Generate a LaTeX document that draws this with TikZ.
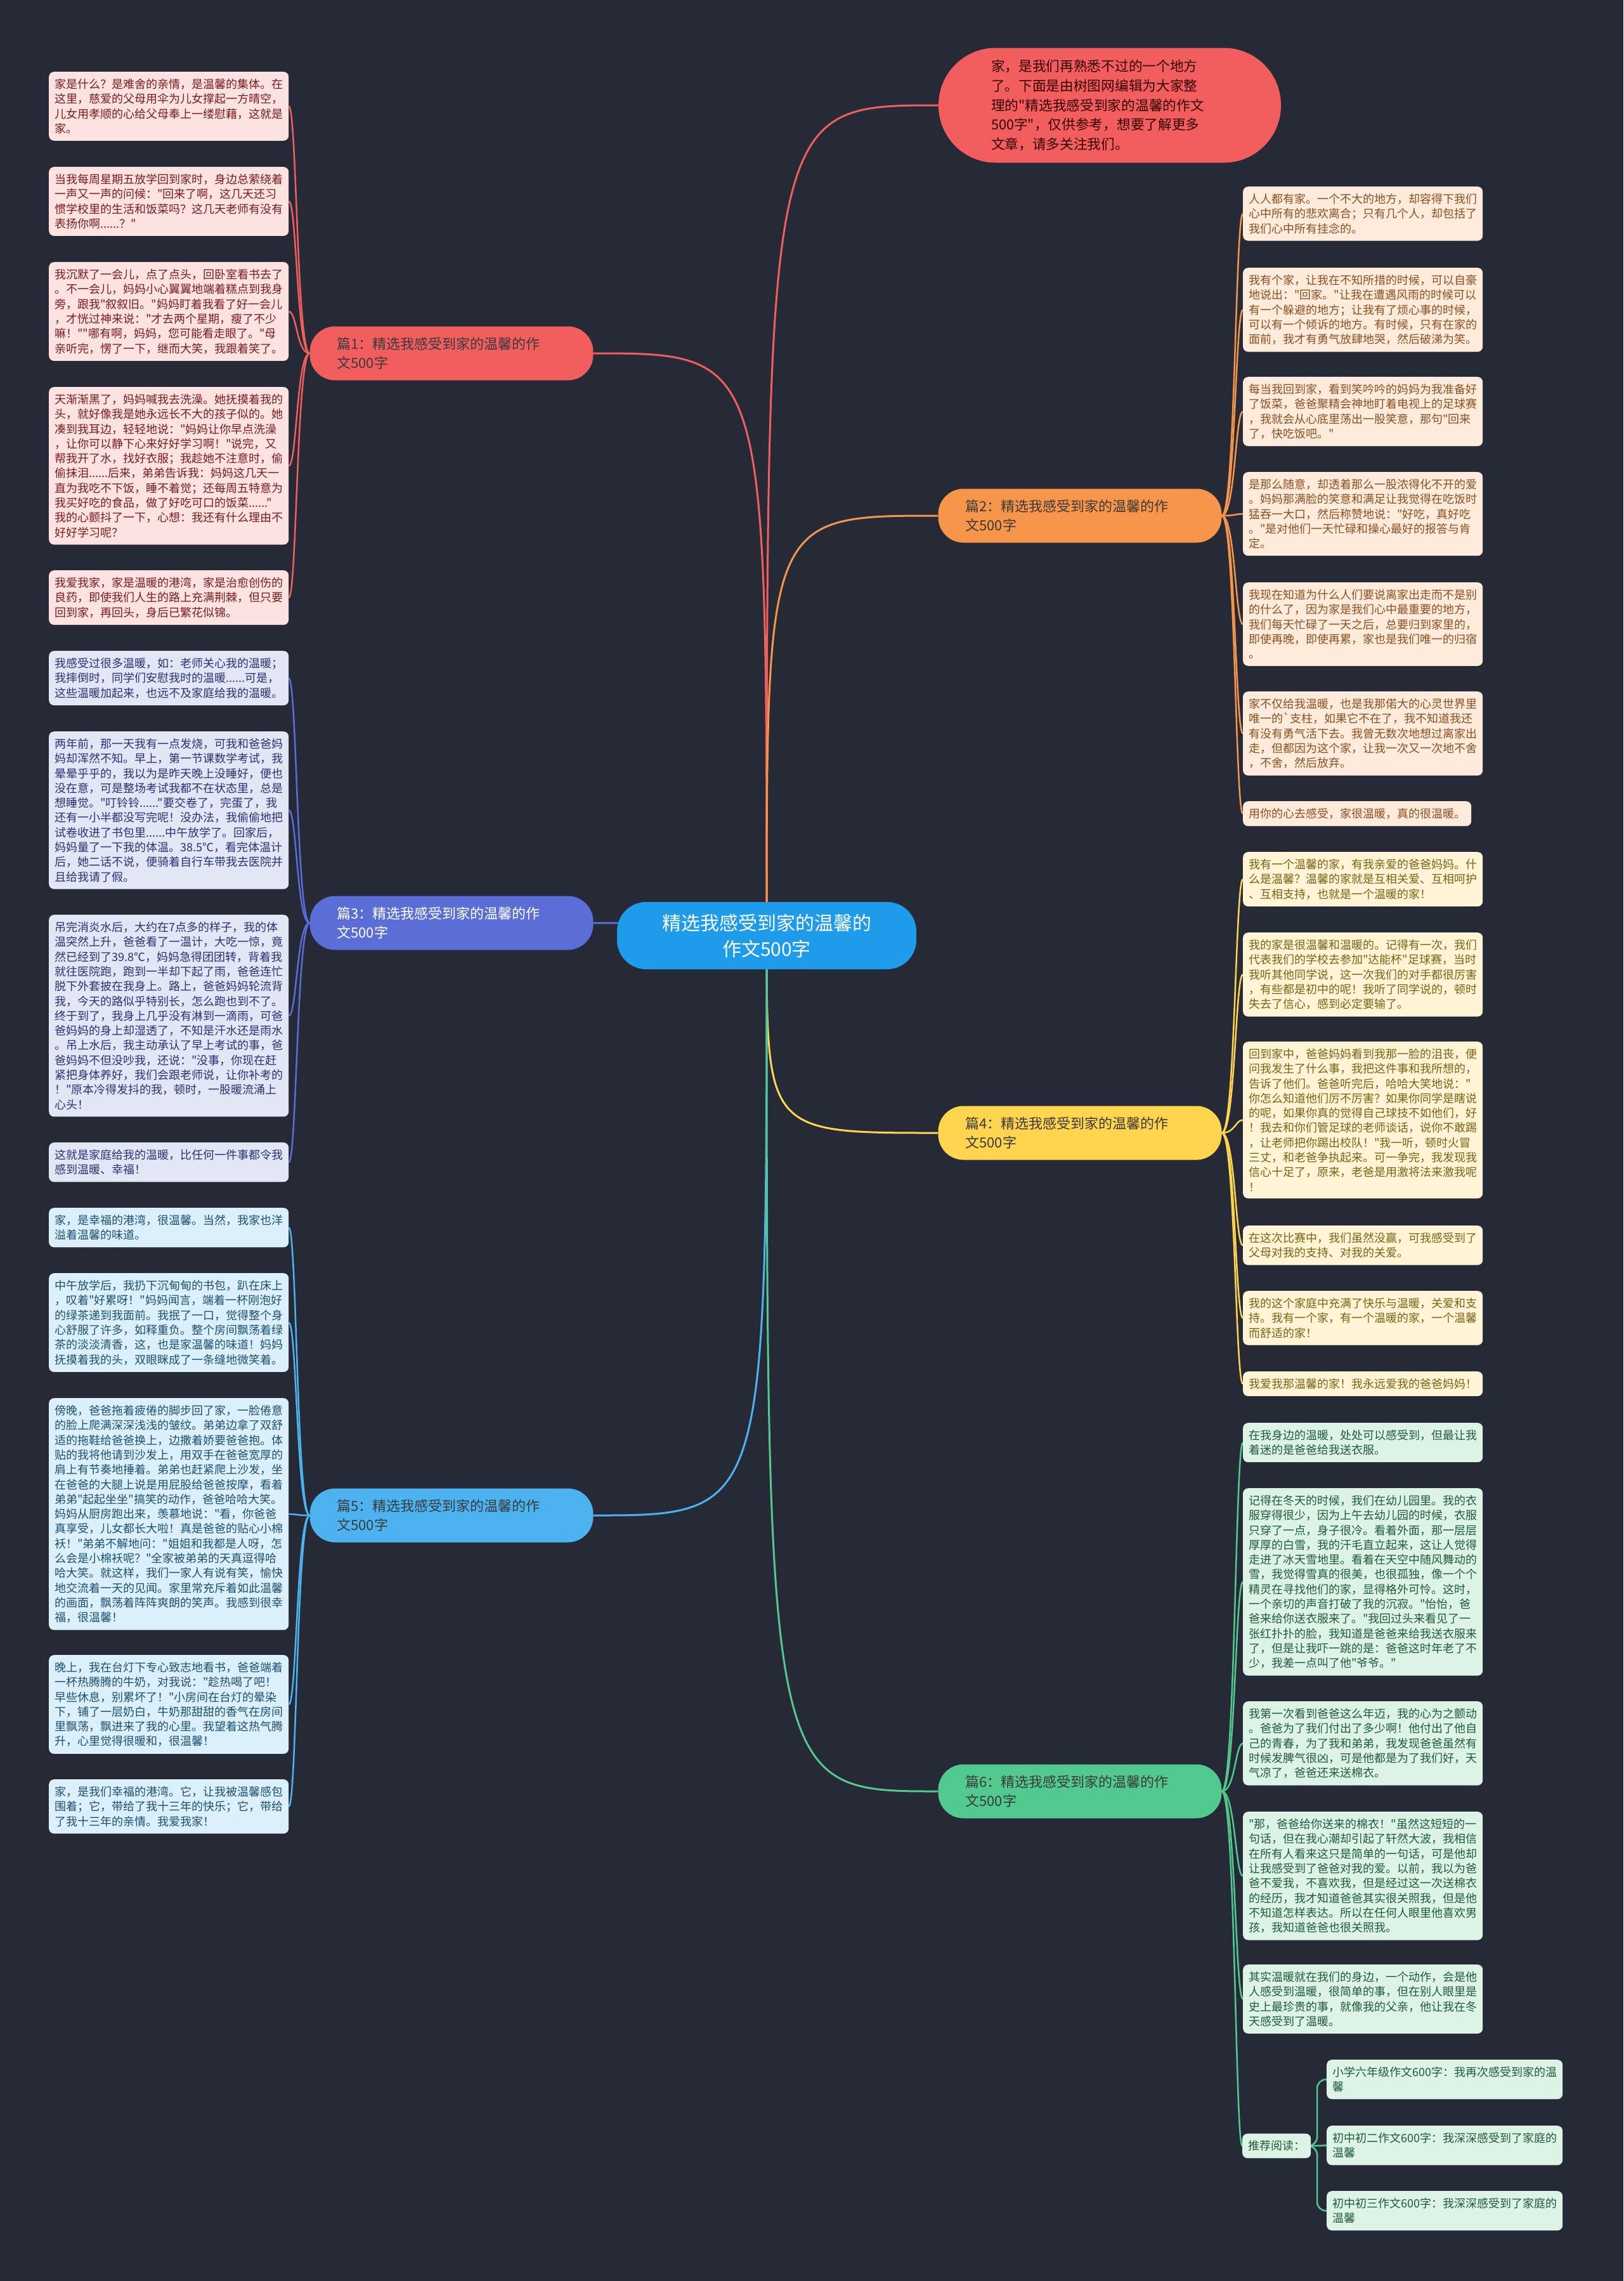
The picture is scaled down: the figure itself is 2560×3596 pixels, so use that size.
\documentclass[tikz,border=0pt]{standalone}
\usepackage{fontspec}
\setmainfont{Noto Sans CJK SC}[Ligatures=TeXOff]
\usetikzlibrary{calc}
\pgfdeclarelayer{back}
\pgfdeclarelayer{lines}
\pgfsetlayers{back,lines,main}
\definecolor{bgc}{HTML}{252A36}
\definecolor{cc}{HTML}{1E9BEA}
\definecolor{k1}{HTML}{F25E5E}
\definecolor{k2}{HTML}{F7964A}
\definecolor{k3}{HTML}{5B6DD6}
\definecolor{k4}{HTML}{FFD54F}
\definecolor{k5}{HTML}{4DB3F0}
\definecolor{k6}{HTML}{52C98E}
\definecolor{f1}{HTML}{FDE2E2}
\definecolor{f2}{HTML}{FEEBDC}
\definecolor{f3}{HTML}{E3E6F5}
\definecolor{f4}{HTML}{FFF5D6}
\definecolor{f5}{HTML}{DCF0FB}
\definecolor{f6}{HTML}{DCF3E6}
\definecolor{t1}{HTML}{7A1C1C}
\definecolor{t2}{HTML}{8C4F1E}
\definecolor{t3}{HTML}{283274}
\definecolor{t4}{HTML}{7A6212}
\definecolor{t5}{HTML}{1D4F72}
\definecolor{t6}{HTML}{1F5A3C}
\definecolor{bt}{HTML}{3A3A3A}
\tikzset{
  leaf/.style={anchor=north west, rounded corners=8pt, inner xsep=9pt, inner ysep=11pt,
    font=\fontsize{18}{23.3}\selectfont, align=left},
  la/.style={leaf, fill=f1, text=t1},
  lb/.style={leaf, fill=f2, text=t2},
  lc/.style={leaf, fill=f3, text=t3},
  ld/.style={leaf, fill=f4, text=t4},
  le/.style={leaf, fill=f5, text=t5},
  lf/.style={leaf, fill=f6, text=t6},
  br/.style={rounded corners=40pt, minimum height=85pt, text width=361pt, inner xsep=43pt,
    align=left, font=\fontsize{22}{30}\selectfont, text=bt},
  ca/.style={draw=k1, line width=3pt},
  cb/.style={draw=k2, line width=3pt},
  cd/.style={draw=k3, line width=3pt},
  ce/.style={draw=k4, line width=3pt},
  cf/.style={draw=k5, line width=3pt},
  cg/.style={draw=k6, line width=3pt},
}
\begin{document}
\begin{tikzpicture}[x=1pt, y=-1pt]
\begin{pgfonlayer}{back}
\fill[bgc] (0,0) rectangle (2560,3596);
\end{pgfonlayer}
\useasboundingbox (0,0) rectangle (2560,3596);
\coordinate (sL) at (468,0);
\coordinate (sR) at (1948,0);
\coordinate (sP) at (2077,0);

% center
\node[fill=cc, text=white, rounded corners=46pt, minimum width=472pt, minimum height=106pt,
  align=center, font=\fontsize{30}{41}\selectfont] (c) at (1209,1475)
  {精选我感受到家的温馨的\\作文500字};

% top note
\node[fill=k1, text=black!80!red, rounded corners=90pt, minimum width=540pt, minimum height=181pt,
  text width=374pt, align=left, font=\fontsize{21.7}{30.7}\selectfont] (n) at (1750,166)
  {家，是我们再熟悉不过的一个地方\\了。下面是由树图网编辑为大家整\\理的"精选我感受到家的温馨的作文\\500字"，仅供参考，想要了解更多\\文章，请多关注我们。};

% branches
\node[br, fill=k1] (b1) at (712,557) {篇1：精选我感受到家的温馨的作\\文500字};
\node[br, fill=k2] (b2) at (1703,813) {篇2：精选我感受到家的温馨的作\\文500字};
\node[br, fill=k3, text=white] (b3) at (712,1455) {篇3：精选我感受到家的温馨的作\\文500字};
\node[br, fill=k4] (b4) at (1703,1786) {篇4：精选我感受到家的温馨的作\\文500字};
\node[br, fill=k5] (b5) at (712,2389) {篇5：精选我感受到家的温馨的作\\文500字};
\node[br, fill=k6] (b6) at (1703,2824) {篇6：精选我感受到家的温馨的作\\文500字};

% 篇1 leaves
\node[la] (L1) at (77,113) {家是什么？是难舍的亲情，是温馨的集体。在\\这里，慈爱的父母用伞为儿女撑起一方晴空，\\儿女用孝顺的心给父母奉上一缕慰藉，这就是\\家。};
\node[la] (L2) at (77,263) {当我每周星期五放学回到家时，身边总萦绕着\\一声又一声的问候："回来了啊，这几天还习\\惯学校里的生活和饭菜吗？这几天老师有没有\\表扬你啊......？"};
\node[la] (L3) at (77,413) {我沉默了一会儿，点了点头，回卧室看书去了\\。不一会儿，妈妈小心翼翼地端着糕点到我身\\旁，跟我"叙叙旧。"妈妈盯着我看了好一会儿\\，才恍过神来说："才去两个星期，瘦了不少\\嘛！""哪有啊，妈妈，您可能看走眼了。"母\\亲听完，愣了一下，继而大笑，我跟着笑了。};
\node[la] (L4) at (77,610) {天渐渐黑了，妈妈喊我去洗澡。她抚摸着我的\\头，就好像我是她永远长不大的孩子似的。她\\凑到我耳边，轻轻地说："妈妈让你早点洗澡\\，让你可以静下心来好好学习啊！"说完，又\\帮我开了水，找好衣服；我趁她不注意时，偷\\偷抹泪......后来，弟弟告诉我：妈妈这几天一\\直为我吃不下饭，睡不着觉；还每周五特意为\\我买好吃的食品，做了好吃可口的饭菜......"\\我的心颤抖了一下，心想：我还有什么理由不\\好好学习呢？};
\node[la] (L5) at (77,899) {我爱我家，家是温暖的港湾，家是治愈创伤的\\良药，即使我们人生的路上充满荆棘，但只要\\回到家，再回头，身后已繁花似锦。};

% 篇3 leaves
\node[lc] (L6) at (77,1026) {我感受过很多温暖，如：老师关心我的温暖；\\我摔倒时，同学们安慰我时的温暖......可是，\\这些温暖加起来，也远不及家庭给我的温暖。};
\node[lc] (L7) at (77,1153) {两年前，那一天我有一点发烧，可我和爸爸妈\\妈却浑然不知。早上，第一节课数学考试，我\\晕晕乎乎的，我以为是昨天晚上没睡好，便也\\没在意，可是整场考试我都不在状态里，总是\\想睡觉。"叮铃铃......"要交卷了，完蛋了，我\\还有一小半都没写完呢！没办法，我偷偷地把\\试卷收进了书包里......中午放学了。回家后，\\妈妈量了一下我的体温。38.5℃，看完体温计\\后，她二话不说，便骑着自行车带我去医院并\\且给我请了假。};
\node[lc] (L8) at (77,1442) {吊完消炎水后，大约在7点多的样子，我的体\\温突然上升，爸爸看了一温计，大吃一惊，竟\\然已经到了39.8℃，妈妈急得团团转，背着我\\就往医院跑，跑到一半却下起了雨，爸爸连忙\\脱下外套披在我身上。路上，爸爸妈妈轮流背\\我，今天的路似乎特别长，怎么跑也到不了。\\终于到了，我身上几乎没有淋到一滴雨，可爸\\爸妈妈的身上却湿透了，不知是汗水还是雨水\\。吊上水后，我主动承认了早上考试的事，爸\\爸妈妈不但没吵我，还说："没事，你现在赶\\紧把身体养好，我们会跟老师说，让你补考的\\！"原本冷得发抖的我，顿时，一股暖流涌上\\心头！};
\node[lc] (L9) at (77,1801) {这就是家庭给我的温暖，比任何一件事都令我\\感到温暖、幸福！};

% 篇5 leaves
\node[le] (L10) at (77,1904) {家，是幸福的港湾，很温馨。当然，我家也洋\\溢着温馨的味道。};
\node[le] (L11) at (77,2007) {中午放学后，我扔下沉甸甸的书包，趴在床上\\，叹着"好累呀！"妈妈闻言，端着一杯刚泡好\\的绿茶递到我面前。我抿了一口，觉得整个身\\心舒服了许多，如释重负。整个房间飘荡着绿\\茶的淡淡清香，这，也是家温馨的味道！妈妈\\抚摸着我的头，双眼眯成了一条缝地微笑着。};
\node[le] (L12) at (77,2204) {傍晚，爸爸拖着疲倦的脚步回了家，一脸倦意\\的脸上爬满深深浅浅的皱纹。弟弟边拿了双舒\\适的拖鞋给爸爸换上，边撒着娇要爸爸抱。体\\贴的我将他请到沙发上，用双手在爸爸宽厚的\\肩上有节奏地捶着。弟弟也赶紧爬上沙发，坐\\在爸爸的大腿上说是用屁股给爸爸按摩，看着\\弟弟"起起坐坐"搞笑的动作，爸爸哈哈大笑。\\妈妈从厨房跑出来，羡慕地说："看，你爸爸\\真享受，儿女都长大啦！真是爸爸的贴心小棉\\袄！"弟弟不解地问："姐姐和我都是人呀，怎\\么会是小棉袄呢？"全家被弟弟的天真逗得哈\\哈大笑。就这样，我们一家人有说有笑，愉快\\地交流着一天的见闻。家里常充斥着如此温馨\\的画面，飘荡着阵阵爽朗的笑声。我感到很幸\\福，很温馨！};
\node[le] (L13) at (77,2609) {晚上，我在台灯下专心致志地看书，爸爸端着\\一杯热腾腾的牛奶，对我说："趁热喝了吧！\\早些休息，别累坏了！"小房间在台灯的晕染\\下，铺了一层奶白，牛奶那甜甜的香气在房间\\里飘荡，飘进来了我的心里。我望着这热气腾\\升，心里觉得很暖和，很温馨！};
\node[le] (L14) at (77,2805) {家，是我们幸福的港湾。它，让我被温馨感包\\围着；它，带给了我十三年的快乐；它，带给\\了我十三年的亲情。我爱我家！};

% 篇2 leaves
\node[lb] (R1) at (1960,294) {人人都有家。一个不大的地方，却容得下我们\\心中所有的悲欢离合；只有几个人，却包括了\\我们心中所有挂念的。};
\node[lb] (R2) at (1960,422) {我有个家，让我在不知所措的时候，可以自豪\\地说出："回家。"让我在遭遇风雨的时候可以\\有一个躲避的地方；让我有了烦心事的时候，\\可以有一个倾诉的地方。有时候，只有在家的\\面前，我才有勇气放肆地哭，然后破涕为笑。};
\node[lb] (R3) at (1960,594) {每当我回到家，看到笑吟吟的妈妈为我准备好\\了饭菜，爸爸聚精会神地盯着电视上的足球赛\\，我就会从心底里荡出一股笑意，那句"回来\\了，快吃饭吧。"};
\node[lb] (R4) at (1960,744) {是那么随意，却透着那么一股浓得化不开的爱\\。妈妈那满脸的笑意和满足让我觉得在吃饭时\\猛吞一大口，然后称赞地说："好吃，真好吃\\。"是对他们一天忙碌和操心最好的报答与肯\\定。};
\node[lb] (R5) at (1960,918) {我现在知道为什么人们要说离家出走而不是别\\的什么了，因为家是我们心中最重要的地方，\\我们每天忙碌了一天之后，总要归到家里的，\\即使再晚，即使再累，家也是我们唯一的归宿\\。};
\node[lb] (R6) at (1960,1090) {家不仅给我温暖，也是我那偌大的心灵世界里\\唯一的`支柱，如果它不在了，我不知道我还\\有没有勇气活下去。我曾无数次地想过离家出\\走，但都因为这个家，让我一次又一次地不舍\\，不舍，然后放弃。};
\node[lb] (R7) at (1960,1263) {用你的心去感受，家很温暖，真的很温暖。};

% 篇4 leaves
\node[ld] (R8) at (1960,1343) {我有一个温馨的家，有我亲爱的爸爸妈妈。什\\么是温馨？温馨的家就是互相关爱、互相呵护\\、互相支持，也就是一个温暖的家！};
\node[ld] (R9) at (1960,1470) {我的家是很温馨和温暖的。记得有一次，我们\\代表我们的学校去参加"达能杯"足球赛，当时\\我听其他同学说，这一次我们的对手都很厉害\\，有些都是初中的呢！我听了同学说的，顿时\\失去了信心，感到必定要输了。};
\node[ld] (R10) at (1960,1642) {回到家中，爸爸妈妈看到我那一脸的沮丧，便\\问我发生了什么事，我把这件事和我所想的，\\告诉了他们。爸爸听完后，哈哈大笑地说："\\你怎么知道他们厉不厉害？如果你同学是瞎说\\的呢，如果你真的觉得自己球技不如他们，好\\！我去和你们管足球的老师谈话，说你不敢踢\\，让老师把你踢出校队！"我一听，顿时火冒\\三丈，和老爸争执起来。可一争完，我发现我\\信心十足了，原来，老爸是用激将法来激我呢\\！};
\node[ld] (R11) at (1960,1932) {在这次比赛中，我们虽然没赢，可我感受到了\\父母对我的支持、对我的关爱。};
\node[ld] (R12) at (1960,2035) {我的这个家庭中充满了快乐与温暖，关爱和支\\持。我有一个家，有一个温暖的家，一个温馨\\而舒适的家！};
\node[ld] (R13) at (1960,2162) {我爱我那温馨的家！我永远爱我的爸爸妈妈！};

% 篇6 leaves
\node[lf] (R14) at (1960,2243) {在我身边的温暖，处处可以感受到，但最让我\\着迷的是爸爸给我送衣服。};
\node[lf] (R15) at (1960,2346) {记得在冬天的时候，我们在幼儿园里。我的衣\\服穿得很少，因为上午去幼儿园的时候，衣服\\只穿了一点，身子很冷。看着外面，那一层层\\厚厚的白雪，我的汗毛直立起来，这让人觉得\\走进了冰天雪地里。看着在天空中随风舞动的\\雪，我觉得雪真的很美，也很孤独，像一个个\\精灵在寻找他们的家，显得格外可怜。这时，\\一个亲切的声音打破了我的沉寂。"怡怡，爸\\爸来给你送衣服来了。"我回过头来看见了一\\张红扑扑的脸，我知道是爸爸来给我送衣服来\\了，但是让我吓一跳的是：爸爸这时年老了不\\少，我差一点叫了他"爷爷。"};
\node[lf] (R16) at (1960,2682) {我第一次看到爸爸这么年迈，我的心为之颤动\\。爸爸为了我们付出了多少啊！他付出了他自\\己的青春，为了我和弟弟，我发现爸爸虽然有\\时候发脾气很凶，可是他都是为了我们好，天\\气凉了，爸爸还来送棉衣。};
\node[lf] (R17) at (1960,2856) {"那，爸爸给你送来的棉衣！"虽然这短短的一\\句话，但在我心潮却引起了轩然大波，我相信\\在所有人看来这只是简单的一句话，可是他却\\让我感受到了爸爸对我的爱。以前，我以为爸\\爸不爱我，不喜欢我，但是经过这一次送棉衣\\的经历，我才知道爸爸其实很关照我，但是他\\不知道怎样表达。所以在任何人眼里他喜欢男\\孩，我知道爸爸也很关照我。};
\node[lf] (R18) at (1960,3097) {其实温暖就在我们的身边，一个动作，会是他\\人感受到温暖，很简单的事，但在别人眼里是\\史上最珍贵的事，就像我的父亲，他让我在冬\\天感受到了温暖。};

\node[lf, anchor=west] (rec) at (1959,3383) {推荐阅读：};
\node[lf] (P1) at (2092,3247) {小学六年级作文600字：我再次感受到家的温\\馨};
\node[lf] (P2) at (2092,3351) {初中初二作文600字：我深深感受到了家庭的\\温馨};
\node[lf] (P3) at (2092,3454) {初中初三作文600字：我深深感受到了家庭的\\温馨};

\begin{pgfonlayer}{lines}
% center connectors
\draw[ca] (c.center) .. controls (c.center |- n.west) .. (n.west);
\draw[ca] (c.center) .. controls (c.center |- b1.east) .. (b1.east);
\draw[cb] (c.center) .. controls (c.center |- b2.west) .. (b2.west);
\draw[cd] (c.center) .. controls (c.center |- b3.east) .. (b3.east);
\draw[ce] (c.center) .. controls (c.center |- b4.west) .. (b4.west);
\draw[cf] (c.center) .. controls (c.center |- b5.east) .. (b5.east);
\draw[cg] (c.center) .. controls (c.center |- b6.west) .. (b6.west);
% left leaves
\foreach \l in {L1,L2,L3,L4,L5}
  \draw[ca, line width=2.5pt] (b1.west) .. controls (b1.west -| sL) and (\l.east -| sL) .. (\l.east);
\foreach \l in {L6,L7,L8,L9}
  \draw[cd, line width=2.5pt] (b3.west) .. controls (b3.west -| sL) and (\l.east -| sL) .. (\l.east);
\foreach \l in {L10,L11,L12,L13,L14}
  \draw[cf, line width=2.5pt] (b5.west) .. controls (b5.west -| sL) and (\l.east -| sL) .. (\l.east);
% right leaves
\foreach \r in {R1,R2,R3,R4,R5,R6,R7}
  \draw[cb, line width=2.5pt] (b2.east) .. controls (b2.east -| sR) and (\r.west -| sR) .. (\r.west);
\foreach \r in {R8,R9,R10,R11,R12,R13}
  \draw[ce, line width=2.5pt] (b4.east) .. controls (b4.east -| sR) and (\r.west -| sR) .. (\r.west);
\foreach \r in {R14,R15,R16,R17,R18,rec}
  \draw[cg, line width=2.5pt] (b6.east) .. controls (b6.east -| sR) and (\r.west -| sR) .. (\r.west);
\draw[cg, line width=2.5pt, rounded corners=14pt] (rec.east) -- (rec.east -| sP) |- (P1.west);
\draw[cg, line width=2.5pt, rounded corners=14pt] (rec.east) -- (rec.east -| sP) |- (P3.west);
\draw[cg, line width=2.5pt] (rec.east) -- (P2.west);
\end{pgfonlayer}
\end{tikzpicture}
\end{document}
